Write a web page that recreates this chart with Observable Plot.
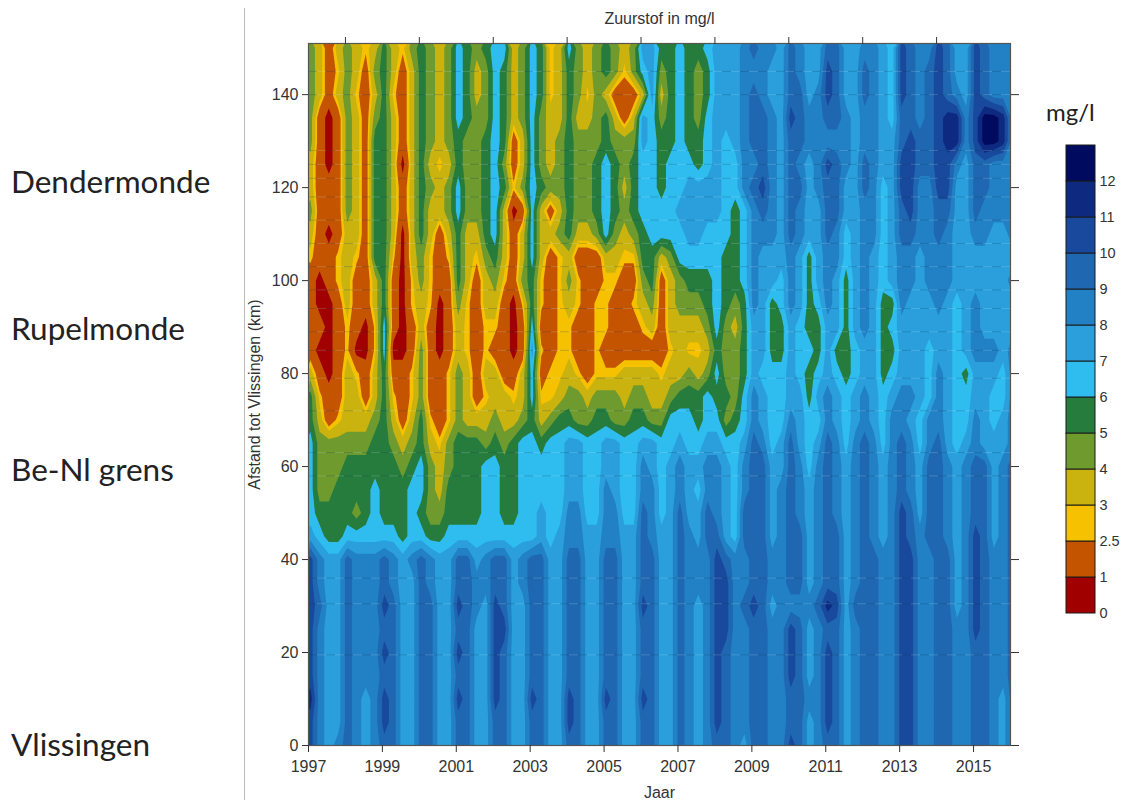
<!DOCTYPE html>
<html>
<head>
<meta charset="utf-8">
<script src="https://cdn.jsdelivr.net/npm/d3@7"></script>
<script src="https://cdn.jsdelivr.net/npm/@observablehq/plot@0.6"></script>
<style>
html,body{margin:0;padding:0;background:#fff;}
#page{position:relative;width:1122px;height:800px;overflow:hidden;}
#page>div.side{position:absolute;left:11px;font-family:Lato,"Open Sans",sans-serif;font-size:31.5px;line-height:36px;color:#222;white-space:nowrap;}
#rule{position:absolute;left:244px;top:8px;width:1px;height:792px;background:#bbb;}
#unit{position:absolute;left:1046px;top:98px;font-family:Lato,"Open Sans",sans-serif;font-size:24px;line-height:28px;color:#222;}
#main,#legend{position:absolute;}
#main{left:0;top:0;}
#legend{left:1056px;top:135px;}
</style>
</head>
<body>
<div id="page">
<div id="rule"></div>
<div class="side" style="top:163px">Dendermonde</div>
<div class="side" style="top:310px">Rupelmonde</div>
<div class="side" style="top:451px">Be-Nl grens</div>
<div class="side" style="top:726px">Vlissingen</div>
<div id="unit">mg/l</div>
<div id="main"></div>
<div id="legend"></div>
</div>
<script>
// Oxygen band (lower limit, mg/l) read per sample: 4 samples a year from 1997.05, rows by km to Vlissingen.
const km150=[4,3,1,3, 4,3,2.5,3, 5,3,2.5,4, 5,4,3,4, 6,5,4,5, 6,6,3,4, 6,5,2.5,3, 6,4,3,4, 5,4,3,4, 7,7,5,5, 6,5,5,6, 7,7,7,8, 9,8,8,7, 9,8,7,7, 9,9,7,7, 8,8,7,6, 10,9,8,8, 10,9,7,7, 10,9,8,8, 8];
const km145=[4,3,1,2.5, 4,3,1,4, 5,3,1,3, 5,4,3,4, 6,5,3,4, 6,5,3,4, 6,5,2.5,3, 5,4,3,4, 5,4,2.5,4, 6,7,4,5, 6,5,4,5, 7,7,7,8, 8,8,7,7, 9,8,7,7, 10,9,7,7, 9,8,7,6, 10,9,8,9, 10,9,7,7, 10,9,8,8, 8];
const km140=[4,3,1,3, 4,2.5,1,3, 5,2.5,1,3, 5,4,3,4, 6,5,3,4, 6,5,3,4, 6,5,2.5,3, 5,4,2.5,4, 3,1,1,1, 3,7,3,5, 6,5,4,5, 7,7,7,8, 9,8,7,7, 9,9,7,8, 10,9,7,7, 9,8,7,6, 10,9,8,9, 10,9,8,7, 10,9,8,8, 8];
const km135=[4,1,0,1, 4,3,1,4, 5,3,1,3, 5,4,3,4, 6,5,4,4, 6,5,3,4, 6,4,3,3, 5,3,3,4, 5,3,1,3, 7,6,4,5, 6,5,4,6, 7,7,7,8, 9,9,8,7, 10,9,8,8, 9,9,8,7, 8,8,7,6, 9,9,8,9, 10,11,11,8, 10,12,12,11, 8];
const km130=[4,1,0,1, 4,3,1,5, 5,3,1,3, 5,4,3,4, 5,4,4,5, 6,5,1,3, 6,4,3,4, 5,4,4,4, 5,4,4,4, 7,6,5,5, 6,5,5,6, 7,6,7,8, 9,9,8,7, 9,9,8,8, 8,8,8,7, 8,8,7,7, 9,10,9,9, 10,11,11,8, 10,12,12,11, 8];
const km125=[3,1,0,1, 4,3,1,5, 5,3,0,3, 5,3,2.5,3, 5,4,4,5, 6,4,1,3, 6,4,3,4, 5,4,4,5, 6,5,4,5, 6,6,5,6, 6,6,5,6, 7,6,6,8, 8,9,8,7, 9,8,7,8, 10,9,8,7, 9,8,7,7, 10,10,9,9, 10,10,8,7, 9,9,8,8, 8];
const km120=[3,1,1,1, 4,3,1,5, 5,3,1,3, 5,4,3,4, 6,4,4,5, 6,5,2.5,4, 6,5,4,4, 5,4,4,5, 6,5,3,5, 6,6,5,6, 6,7,7,7, 7,6,6,8, 9,10,8,7, 9,9,7,8, 9,9,7,7, 9,8,6,7, 10,10,8,8, 10,10,7,7, 9,9,8,8, 8];
const km115=[4,1,1,1, 4,3,1,5, 5,3,1,3, 5,3,3,4, 6,4,4,5, 6,3,0,1, 6,3,1,3, 5,4,4,5, 6,5,4,5, 6,6,6,6, 7,7,7,7, 7,6,5,6, 8,9,8,7, 9,8,7,7, 9,9,7,7, 8,8,6,7, 9,10,8,8, 9,9,7,7, 9,8,8,8, 8];
const km110=[3,1,0,1, 3,3,1,5, 5,3,0,3, 5,3,1,3, 5,3,3,5, 6,3,1,3, 6,3,3,4, 5,3,3,4, 6,4,3,4, 5,6,6,6, 6,7,7,6, 6,6,5,6, 8,8,8,7, 9,8,7,7, 9,8,6,7, 8,8,6,7, 9,9,8,8, 9,8,7,7, 8,8,7,7, 8];
const km105=[2.5,1,1,2.5, 3,2.5,1,5, 5,2.5,0,3, 4,2.5,1,2.5, 5,3,2.5,4, 5,3,1,3, 6,3,1,2.5, 3,1,1,1, 3,3,2.5,2.5, 5,5,3,4, 6,6,6,6, 6,5,5,6, 8,7,7,7, 8,7,5,7, 8,8,6,7, 8,7,6,7, 8,8,7,8, 8,8,7,7, 7,7,7,7, 7];
const km100=[1,0,1,2.5, 3,1,1,3, 5,1,0,2.5, 4,2.5,1,1, 5,3,1,3, 4,2.5,1,4, 5,2.5,1,2.5, 4,2.5,1,1, 2.5,2.5,1,1, 4,5,1,3, 4,5,5,5, 6,5,5,6, 8,7,7,6, 8,7,5,7, 8,7,5,7, 8,7,6,7, 8,8,7,8, 8,8,7,7, 7,7,7,7, 8];
const km95=[1,0,0,1, 3,1,1,3, 5,1,0,2.5, 3,2.5,0,1, 4,2.5,1,3, 3,1,0,2.5, 5,2.5,1,2.5, 3,2.5,1,2.5, 2.5,1,1,2.5, 3,4,1,3, 4,4,4,5, 6,5,4,5, 8,7,5,6, 8,7,5,6, 8,7,5,7, 8,7,5,5, 8,7,7,7, 8,7,6,7, 8,7,7,7, 7];
const km90=[1,1,0,1, 2.5,1,0,2.5, 6,1,0,1, 3,1,0,1, 3,2.5,1,2.5, 2.5,1,0,1, 6,1,1,2.5, 2.5,1,1,2.5, 2.5,1,1,1, 2.5,3,1,3, 3,3,3,4, 6,4,3,5, 7,7,5,5, 7,6,5,5, 7,7,5,7, 8,7,5,6, 7,7,7,7, 7,7,6,7, 8,7,7,7, 7];
const km85=[1,0,0,1, 2.5,0,0,2.5, 6,0,0,1, 4,1,0,1, 3,2.5,1,2.5, 1,1,0,1, 7,2.5,1,2.5, 2.5,1,1,2.5, 1,1,1,1, 1,1,1,2.5, 3,2.5,2.5,3, 5,4,4,5, 7,7,5,5, 7,6,6,5, 7,5,5,6, 7,7,5,5, 7,7,7,6, 7,7,6,7, 8,8,8,7, 8];
const km80=[3,1,0,1, 3,2.5,1,3, 5,1,1,2.5, 4,1,1,2.5, 4,3,1,3, 3,1,1,3, 6,1,2.5,2.5, 3,2.5,1,2.5, 2.5,2.5,3,3, 3,3,2.5,3, 3,4,3,4, 6,4,4,5, 7,6,6,6, 7,6,5,6, 7,6,5,6, 7,7,5,6, 7,7,7,6, 8,7,6,5, 7,7,7,6, 8];
const km75=[5,2.5,1,1, 3,3,1,3, 5,2.5,1,2.5, 4,1,1,2.5, 4,3,1,2.5, 3,3,2.5,3, 6,2.5,2.5,3, 4,4,3,4, 4,4,3,4, 4,3,3,4, 5,5,5,6, 5,5,4,6, 8,7,6,6, 7,7,5,7, 8,7,6,7, 8,7,6,7, 8,8,7,6, 8,7,6,6, 7,7,6,6, 8];
const km70=[5,3,1,2.5, 3,3,3,4, 5,3,1,3, 5,2.5,1,2.5, 4,3,3,3, 4,3,3,4, 5,3,4,5, 5,4,4,5, 5,4,4,5, 5,4,4,6, 6,6,5,6, 6,4,5,6, 8,7,6,6, 8,7,6,6, 8,7,6,7, 8,7,6,8, 8,7,6,8, 8,7,6,6, 8,7,6,7, 8];
const km65=[6,4,4,4, 4,4,4,5, 5,4,3,4, 5,3,2.5,4, 5,5,5,4, 5,4,5,6, 6,5,6,6, 7,7,6,6, 7,7,6,6, 7,7,6,6, 7,6,6,7, 7,6,6,7, 9,8,6,7, 9,7,6,7, 9,8,6,8, 9,8,6,8, 9,8,6,8, 9,7,6,7, 8,7,7,7, 8];
const km60=[6,4,4,4, 5,5,5,5, 5,5,4,5, 6,4,3,4, 5,5,5,6, 6,5,5,6, 6,6,6,6, 7,7,6,6, 7,7,6,6, 8,7,6,7, 8,7,7,8, 8,7,6,8, 9,9,7,7, 9,8,6,8, 9,8,7,8, 9,8,7,8, 9,8,7,9, 9,8,7,8, 9,9,7,8, 9];
const km55=[6,4,4,5, 5,5,5,6, 5,5,5,6, 6,4,3,5, 5,5,5,6, 6,5,5,6, 6,6,6,6, 7,7,6,6, 8,7,6,6, 8,8,6,7, 8,7,6,8, 8,7,6,8, 9,9,7,8, 9,8,7,8, 9,8,7,8, 9,8,7,8, 9,8,7,9, 9,8,7,8, 9,9,7,8, 9];
const km50=[6,5,5,5, 5,4,5,6, 5,5,5,6, 5,4,4,5, 5,5,5,6, 6,5,5,6, 6,7,6,6, 8,8,6,6, 8,8,6,6, 9,8,6,7, 9,7,7,9, 8,7,6,9, 9,9,7,8, 9,8,7,8, 9,8,7,8, 9,8,7,8, 10,9,7,9, 9,8,7,8, 9,9,7,8, 9];
const km45=[7,6,5,5, 6,6,6,6, 6,6,5,6, 6,5,5,6, 6,6,6,6, 6,6,6,6, 6,7,6,7, 8,8,7,7, 8,8,7,7, 9,8,7,7, 9,8,7,9, 9,7,6,9, 9,9,7,8, 9,9,7,8, 9,9,7,8, 9,8,7,8, 10,9,8,9, 9,8,7,8, 10,9,7,8, 9];
const km40=[10,8,7,7, 9,8,8,8, 9,8,7,8, 9,8,7,7, 9,9,7,8, 9,9,7,8, 9,9,7,7, 9,9,7,7, 9,9,7,7, 9,9,7,7, 9,8,8,8, 10,9,8,8, 9,9,8,8, 9,9,7,8, 9,9,7,8, 9,9,8,8, 10,10,8,8, 9,9,7,8, 10,9,8,8, 9];
const km35=[10,8,7,7, 9,8,8,8, 9,8,7,7, 9,8,7,7, 9,9,8,8, 9,9,7,8, 9,9,7,7, 9,9,7,7, 9,9,7,7, 9,9,7,7, 9,8,8,8, 10,10,8,8, 9,9,8,8, 9,9,7,8, 9,9,7,8, 9,9,8,8, 10,10,8,8, 9,9,7,8, 10,9,8,8, 9];
const km30=[10,9,7,7, 9,8,8,8, 10,9,7,7, 9,9,7,7, 10,9,8,7, 10,9,7,7, 9,9,7,7, 9,9,7,7, 9,9,7,7, 10,9,7,7, 9,8,7,8, 10,10,8,9, 10,9,7,8, 8,8,8,9, 11,10,7,9, 9,9,8,8, 10,10,8,8, 9,9,7,8, 10,9,8,8, 9];
const km25=[10,8,7,7, 9,8,8,8, 9,9,7,7, 9,9,7,7, 9,9,7,7, 10,10,7,7, 9,9,7,7, 9,9,7,7, 9,9,7,7, 9,9,7,7, 9,8,7,8, 10,10,8,8, 9,9,8,8, 10,9,7,8, 9,9,7,8, 9,9,8,8, 10,10,8,8, 9,9,8,8, 10,9,8,8, 9];
const km20=[10,8,7,7, 9,8,8,8, 10,9,7,7, 9,9,7,7, 10,9,7,7, 10,9,7,7, 9,9,7,7, 9,9,7,7, 9,9,7,7, 9,9,7,7, 9,8,7,8, 10,9,8,8, 9,9,8,8, 10,9,7,8, 10,9,7,8, 9,9,8,8, 10,10,8,8, 9,9,8,8, 9,9,8,8, 9];
const km15=[10,8,7,7, 9,8,8,8, 9,9,7,7, 9,9,7,7, 9,9,7,7, 10,9,7,7, 9,9,7,7, 9,9,7,7, 9,9,7,7, 9,9,7,7, 9,8,7,8, 10,9,8,8, 9,9,8,8, 10,9,7,8, 10,9,7,8, 9,9,8,8, 10,10,8,8, 9,9,8,8, 9,9,8,8, 9];
const km10=[11,8,7,7, 9,8,7,8, 10,9,7,7, 9,9,7,7, 10,9,7,7, 10,9,7,7, 10,9,7,7, 10,9,7,7, 10,9,7,7, 10,9,7,7, 9,8,7,8, 10,9,8,8, 9,9,8,8, 9,9,8,8, 10,9,7,8, 9,9,8,8, 10,10,8,8, 9,9,8,8, 9,9,8,7, 9];
const km5=[10,8,7,7, 9,8,7,8, 10,9,7,7, 9,9,7,7, 9,9,7,7, 9,9,7,7, 9,9,7,7, 10,9,7,7, 9,9,7,7, 9,9,7,7, 9,8,7,8, 10,9,8,8, 9,9,8,8, 9,9,7,8, 10,9,7,8, 9,9,8,8, 10,10,8,8, 9,9,8,8, 9,9,8,7, 9];
const km0=[10,8,7,8, 9,8,7,8, 9,9,7,7, 9,9,7,7, 9,9,7,7, 9,9,7,7, 9,9,7,7, 9,9,7,7, 9,9,7,7, 9,9,7,7, 9,8,7,8, 9,9,8,7, 9,9,8,8, 10,9,7,8, 9,9,7,8, 9,9,8,8, 10,10,8,8, 9,9,8,8, 9,9,8,7, 9];

const rows=[km150,km145,km140,km135,km130,km125,km120,km115,km110,km105,km100,km95,km90,km85,km80,km75,km70,km65,km60,km55,km50,km45,km40,km35,km30,km25,km20,km15,km10,km5,km0];
const bandFloors=[0,1,2.5,3,4,5,6,7,8,9,10,11,12];
const bandColors=["#a00000","#c55400","#f6c200","#cbb30f","#6f9a2e","#267c3c","#2fbdf0","#2a9fdc","#2280c5","#1f68b1","#18499c","#0d2a80","#000a5e"];
const bandLabels=["0","1","2.5","3","4","5","6","7","8","9","10","11","12"];
const xTickYears=[1997,1999,2001,2003,2005,2007,2009,2011,2013,2015];
const topTickYears=[1998,2000,2002,2004,2006,2008,2010,2012,2014];
const kmTicks=[0,20,40,60,80,100,120,140];
const stationKm=[145,140,128,125,122,118,113,108,103,98,94,89,85,79,72,63,58,36,30.5,19.5];

const midOf=new Map(bandFloors.map((f,i)=>[f,i<12?(f+bandFloors[i+1])/2:f+0.5]));
const grid=rows.flat().map(v=>midOf.get(v));
const colorScale={type:"threshold",domain:bandFloors.slice(1),range:bandColors};
const font='"Liberation Sans",Arial,sans-serif';
const ink="#333";

const chart=Plot.plot({
  width:1122,height:800,
  marginLeft:308,marginRight:112,marginTop:43,marginBottom:55,
  style:{fontFamily:font,background:"transparent"},
  x:{domain:[1997,2016],axis:null},
  y:{domain:[0,151],axis:null},
  color:colorScale,
  marks:[
    Plot.contour(grid,{width:77,height:31,x1:1996.925,x2:2016.175,y1:152.5,y2:-2.5,fill:Plot.identity,thresholds:bandFloors,clip:true}),
    Plot.ruleY(stationKm,{stroke:"#0b3d66",strokeOpacity:0.22,strokeWidth:1,strokeDasharray:"9 9"}),
    Plot.ruleY(stationKm,{stroke:"#d8f2ff",strokeOpacity:0.18,strokeWidth:1,strokeDasharray:"9 9",strokeDashoffset:9}),
    Plot.frame({stroke:"#555",strokeWidth:1.2}),
    Plot.axisX({anchor:"bottom",ticks:xTickYears,tickFormat:"d",tickSize:7,tickPadding:8,fontSize:16,color:ink,label:null}),
    Plot.axisX({anchor:"top",ticks:topTickYears,tickFormat:()=>"",tickSize:7,color:ink,label:null}),
    Plot.axisY({anchor:"left",ticks:kmTicks,tickFormat:"d",tickSize:6,tickPadding:4,fontSize:16,color:ink,label:null}),
    Plot.axisY({anchor:"right",ticks:kmTicks,tickFormat:()=>"",tickSize:8,color:ink,label:null}),
    Plot.text(["Jaar"],{frameAnchor:"bottom",dy:52,fontSize:16,fill:ink}),
    Plot.text(["Zuurstof in mg/l"],{frameAnchor:"top",dy:-31,fontSize:16,fill:ink}),
    Plot.text(["Afstand tot Vlissingen (km)"],{frameAnchor:"left",dx:-54,rotate:-90,textAnchor:"middle",fontSize:16,fill:ink})
  ]
});
document.getElementById("main").appendChild(chart);

const legend=Plot.plot({
  width:66,height:490,
  marginLeft:10,marginRight:27,marginTop:10,marginBottom:12,
  style:{fontFamily:font,background:"transparent"},
  x:{domain:[0,1],axis:null},
  y:{domain:[0,13],axis:null},
  color:colorScale,
  marks:[
    Plot.rect(bandFloors,{x1:0,x2:1,y1:(d,i)=>i,y2:(d,i)=>i+1,fill:d=>d,stroke:"#1a1a1a",strokeWidth:1}),
    Plot.axisY({anchor:"right",ticks:d3.range(13),tickFormat:i=>bandLabels[i],tickSize:0,tickPadding:4,fontSize:14.5,color:ink,label:null})
  ]
});
document.getElementById("legend").appendChild(legend);
</script>
</body>
</html>
